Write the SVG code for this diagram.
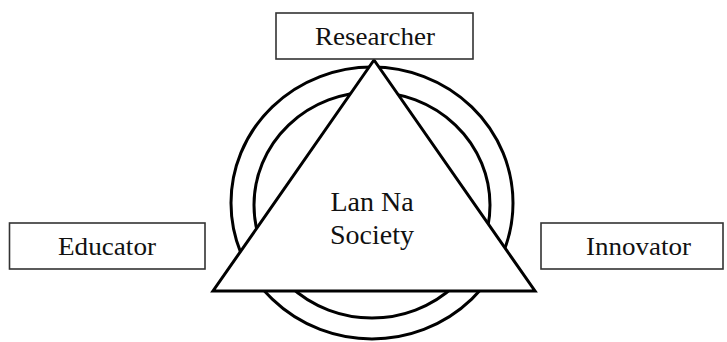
<svg xmlns="http://www.w3.org/2000/svg" width="727" height="342" viewBox="0 0 727 342">
<style>
.box{fill:#fff;stroke:#333;stroke-width:1.6}
.ring{fill:none;stroke:#000;stroke-width:3}
.tri{fill:#fff;stroke:#000;stroke-width:3;stroke-linejoin:miter}
.lbl{font-family:"Liberation Serif","Times New Roman",serif;font-size:26px;fill:#111;text-anchor:middle}
.ctr{font-family:"Liberation Serif","Times New Roman",serif;font-size:28px;fill:#111;text-anchor:middle}
</style>
<rect width="727" height="342" fill="#fff"/>
<g id="connectors">
<ellipse class="ring" cx="372" cy="203" rx="141" ry="136"/>
<ellipse class="ring" cx="372" cy="205" rx="118" ry="113"/>
</g>
<g id="society">
<polygon class="tri" points="374,60 213,291 535,291"/>
<text class="ctr" x="372" y="211">Lan Na</text>
<text class="ctr" x="372" y="244">Society</text>
</g>
<g id="researcher">
<rect class="box" x="276" y="13" width="197" height="46"/>
<text class="lbl" x="375" y="45" textLength="120" lengthAdjust="spacingAndGlyphs">Researcher</text>
</g>
<g id="educator">
<rect class="box" x="9.5" y="223" width="195.5" height="46"/>
<text class="lbl" x="107" y="255" textLength="98" lengthAdjust="spacingAndGlyphs">Educator</text>
</g>
<g id="innovator">
<rect class="box" x="541" y="223" width="182" height="46"/>
<text class="lbl" x="638.5" y="255" textLength="105" lengthAdjust="spacingAndGlyphs">Innovator</text>
</g>
</svg>
